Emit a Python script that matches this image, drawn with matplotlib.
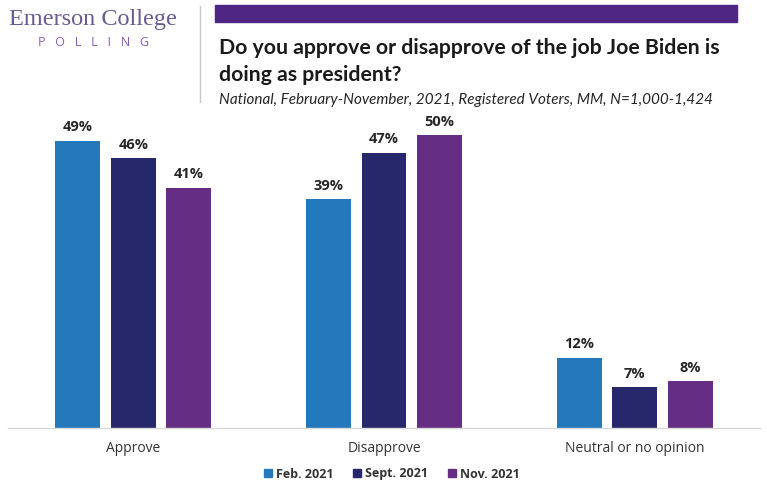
import matplotlib
matplotlib.use("Agg")
import matplotlib.pyplot as plt
import numpy as np
from matplotlib.lines import Line2D
from matplotlib.patches import Rectangle

categories = ["Approve", "Disapprove", "Neutral or no opinion"]
series_names = ["Feb. 2021", "Sept. 2021", "Nov. 2021"]
feb = [49, 39, 12]
sept = [46, 47, 7]
nov = [41, 50, 8]
values = [feb, sept, nov]
colors = ["#2479bd", "#27276b", "#662d84"]

W, H = 767, 487
fig = plt.figure(figsize=(W / 100, H / 100), dpi=100)

base_px = 428
px_per_pct = 5.86
ymax = 55
ax_left = 8 / W
ax_right = 760 / W
ax_bottom = (H - base_px) / H
ax_top = (H - (base_px - ymax * px_per_pct)) / H
ax = fig.add_axes([ax_left, ax_bottom, ax_right - ax_left, ax_top - ax_bottom])

x = np.arange(len(categories))
bw = 45 / 251
off = 55.5 / 251
for i, (vals, c, name) in enumerate(zip(values, colors, series_names)):
    pos = x + (i - 1) * off
    bars = ax.bar(pos, vals, width=bw, color=c, label=name, zorder=2)
    for b, v in zip(bars, vals):
        ax.text(b.get_x() + b.get_width() / 2, v + 1.1, f"{v}%", ha="center",
                va="bottom", fontsize=10.5, fontweight="bold", color="#262626",
                family="Open Sans")

ax.set_xlim(-0.5, 2.5)
ax.set_ylim(0, ymax)
for s in ["top", "right", "left"]:
    ax.spines[s].set_visible(False)
ax.spines["bottom"].set_color("#d9d9d9")
ax.spines["bottom"].set_linewidth(1)
ax.set_yticks([])
ax.set_xticks(x)
ax.set_xticklabels(categories, fontsize=10, color="#333333", family="Open Sans")
ax.tick_params(axis="x", length=0, pad=9)

handles = [Rectangle((0, 0), 1, 1, color=c) for c in colors]
leg = fig.legend(handles, series_names, loc="center", bbox_to_anchor=(392 / W, 1 - 474 / H),
                 ncol=3, frameon=False, handlelength=0.6, handleheight=0.6,
                 handletextpad=0.35, columnspacing=1.6,
                 prop={"family": "Open Sans", "weight": "bold", "size": 9})
for t in leg.get_texts():
    t.set_color("#333333")

# Header
fig.text(93 / W, 1 - 20 / H, "Emerson College", ha="center", va="center",
         fontsize=17.5, family="Liberation Serif", color="#6a5a93")
fig.text(93 / W, 1 - 42 / H, "P   O   L   L   I   N   G", ha="center", va="center",
         fontsize=9, family="Open Sans", color="#8a5bb5")
fig.add_artist(Line2D([200 / W, 200 / W], [1 - 6 / H, 1 - 102 / H], color="#c8c8c8", lw=1))
fig.add_artist(Rectangle((215 / W, 1 - 22 / H), (737 - 215) / W, 17 / H, color="#4f2683",
                         transform=fig.transFigure))
fig.text(219 / W, 1 - 48 / H, "Do you approve or disapprove of the job Joe Biden is",
         ha="left", va="center", fontsize=15.3, fontweight="bold", family="Lato", color="#1a1a1a")
fig.text(219 / W, 1 - 75 / H, "doing as president?",
         ha="left", va="center", fontsize=15.3, fontweight="bold", family="Lato", color="#1a1a1a")
fig.text(219 / W, 1 - 100 / H, "National, February-November, 2021, Registered Voters, MM, N=1,000-1,424",
         ha="left", va="center", fontsize=11.0, style="italic", family="Lato", color="#262626")

fig.savefig("out.png", dpi=100)
